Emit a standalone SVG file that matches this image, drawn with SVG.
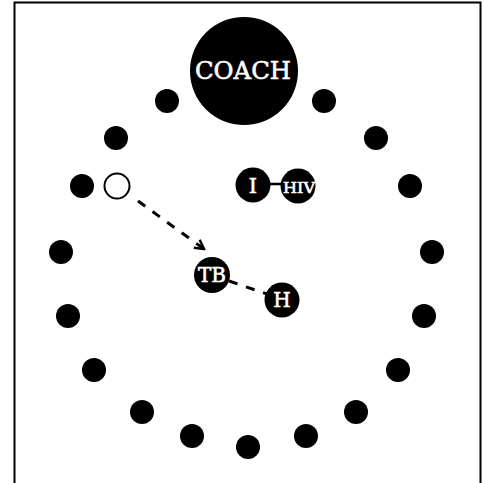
<svg xmlns="http://www.w3.org/2000/svg" width="483" height="483" viewBox="0 0 483 483">
<style>
.dot{fill:#000}
.node{fill:#000}
.lbl{fill:#fff;stroke:#fff;stroke-width:0.6;font-family:"DejaVu Serif","Liberation Serif",serif;text-anchor:middle}
.dash{stroke:#000;stroke-width:3;stroke-dasharray:9,9;fill:none}
</style>
<defs>
<marker id="arr" markerWidth="12" markerHeight="12" refX="10" refY="6" orient="auto" markerUnits="userSpaceOnUse">
<path d="M1,1 L10,6 L1,11" fill="none" stroke="#000" stroke-width="2.5"/>
</marker>
</defs>
<rect x="14.5" y="2.5" width="466" height="490" fill="#fff" stroke="#000" stroke-width="2"/>
<g id="dots">
<circle class="dot" cx="167" cy="101" r="12"/>
<circle class="dot" cx="324" cy="101" r="12"/>
<circle class="dot" cx="116" cy="138" r="12"/>
<circle class="dot" cx="376" cy="138" r="12"/>
<circle class="dot" cx="82" cy="186" r="12"/>
<circle class="dot" cx="410" cy="186" r="12"/>
<circle class="dot" cx="61" cy="252" r="12"/>
<circle class="dot" cx="432" cy="252" r="12"/>
<circle class="dot" cx="68" cy="316" r="12"/>
<circle class="dot" cx="424" cy="316" r="12"/>
<circle class="dot" cx="94" cy="370" r="12"/>
<circle class="dot" cx="398" cy="370" r="12"/>
<circle class="dot" cx="142" cy="412" r="12"/>
<circle class="dot" cx="356" cy="412" r="12"/>
<circle class="dot" cx="192" cy="436" r="12"/>
<circle class="dot" cx="306" cy="436" r="12"/>
<circle class="dot" cx="248" cy="447" r="12"/>
</g>
<g id="connectors">
<line class="dash" x1="138" y1="201" x2="204" y2="249" marker-end="url(#arr)"/>
<line x1="269" y1="184" x2="282" y2="184" stroke="#000" stroke-width="2.5"/>
<line x1="229" y1="281" x2="267" y2="294" stroke="#000" stroke-width="3" stroke-dasharray="9,9"/>
</g>
<g id="coach">
<circle class="node" cx="244" cy="71" r="54"/>
<text class="lbl" x="243" y="79" font-size="25" textLength="96" lengthAdjust="spacingAndGlyphs">COACH</text>
</g>
<g id="open">
<circle cx="117" cy="186" r="12.5" fill="#fff" stroke="#000" stroke-width="2"/>
</g>
<g id="nodeI">
<circle class="node" cx="253" cy="185" r="17.5"/>
<text class="lbl" x="253" y="193" font-size="21">I</text>
</g>
<g id="nodeHIV">
<circle class="node" cx="298" cy="186" r="17.5"/>
<text class="lbl" x="299" y="193" font-size="14" textLength="32" lengthAdjust="spacingAndGlyphs">HIV</text>
</g>
<g id="nodeTB">
<circle class="node" cx="212" cy="275" r="18"/>
<text class="lbl" x="212" y="282" font-size="20" textLength="28" lengthAdjust="spacingAndGlyphs">TB</text>
</g>
<g id="nodeH">
<circle class="node" cx="282" cy="300" r="17.5"/>
<text class="lbl" x="282" y="307" font-size="20">H</text>
</g>
</svg>
